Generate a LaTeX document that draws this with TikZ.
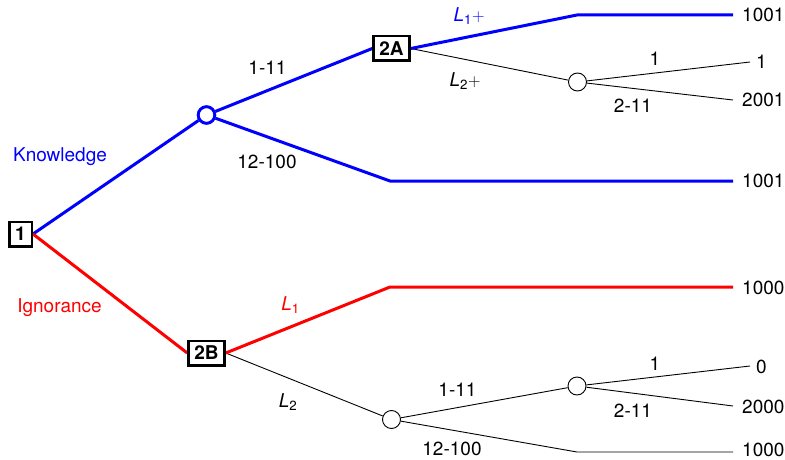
\documentclass[tikz,border=0pt]{standalone}
\usepackage{fontspec}
\setmainfont{TeX Gyre Heros}
\definecolor{kblue}{RGB}{0,0,255}
\definecolor{ired}{RGB}{255,0,0}
\begin{document}
\begin{tikzpicture}[x=1pt,y=-1pt,
  font=\fontsize{19}{22}\selectfont,
  decbox/.style={draw=black, line width=2.5pt, fill=white, font=\fontsize{19}{22}\selectfont\bfseries, inner sep=0pt, minimum width=36pt, minimum height=24.5pt},
  chancebig/.style={circle, draw=kblue, line width=2.8pt, fill=white, inner sep=0pt, minimum size=16.5pt},
  chance/.style={circle, draw=black, line width=0.9pt, fill=white, inner sep=0pt, minimum size=18pt},
  lbl/.style={inner sep=0pt, anchor=center},
  pay/.style={inner sep=0pt, anchor=west},
  thickblue/.style={draw=kblue, line width=3pt, line join=round},
  thickred/.style={draw=ired, line width=3pt, line join=round},
  thin/.style={draw=black, line width=0.9pt, line join=round}]
\useasboundingbox (0,0) rectangle (785,460);

% nodes
\node[decbox, minimum width=22.5pt] (n1) at (20.5,234) {1};
\node[chancebig] (k) at (206.5,115) {};
\node[decbox] (a) at (391.5,48.5) {2A};
\node[decbox] (b) at (206.5,353) {2B};
\node[chance] (ca) at (577.5,82) {};
\node[chance] (cb) at (391.5,419.5) {};
\node[chance] (cc) at (577,386) {};

\coordinate (a1b) at (577,15);
\coordinate (a1e) at (733,15);
\coordinate (k2b) at (390,181);
\coordinate (k2e) at (733,181);
\coordinate (caeA) at (750,62);
\coordinate (caeB) at (733,100);
\coordinate (b1b) at (390,287);
\coordinate (b1e) at (733,287);
\coordinate (cb2b) at (577,452);
\coordinate (cb2e) at (733,452);
\coordinate (cceA) at (750,366);
\coordinate (cceB) at (733,406);

% connectors
\draw[thin] (a.east) -- (ca);
\draw[thin] (ca) -- (caeA);
\draw[thin] (ca) -- (caeB);
\draw[thin] (b.east) -- (cb);
\draw[thin] (cb) -- (cc);
\draw[thin] (cb) -- (cb2b) -- (cb2e);
\draw[thin] (cc) -- (cceA);
\draw[thin] (cc) -- (cceB);

\draw[thickblue] (n1.east) -- (k);
\draw[thickblue] (k) -- (a.west);
\draw[thickblue] (k) -- (k2b) -- (k2e);
\draw[thickblue] (a.east) -- (a1b) -- (a1e);
\draw[thickred] (n1.east) -- (b.west);
\draw[thickred] (b.east) -- (b1b) -- (b1e);

% redraw nodes on top
\node[decbox, minimum width=22.5pt] at (n1) {1};
\node[chancebig] at (k) {};
\node[decbox] at (a) {2A};
\node[decbox] at (b) {2B};

% labels
\node[lbl, text=kblue] (lk) at (60,157) {Knowledge};
\node[lbl, text=ired] (li) at (59.5,308) {Ignorance};
\node[lbl] (l111) at (267.5,68) {1-11};
\node[lbl] (l12100) at (267,162) {12-100};
\node[lbl, text=kblue] (lL1p) at (469,16) {\textit{L}\textsubscript{1}$+$};
\node[lbl] (lL2p) at (465,81) {\textit{L}\textsubscript{2}$+$};
\node[lbl] (la1) at (655,59) {1};
\node[lbl] (la211) at (633,106) {2-11};
\node[lbl, text=ired] (lL1) at (290.5,305) {\textit{L}\textsubscript{1}};
\node[lbl] (lL2) at (288,402) {\textit{L}\textsubscript{2}};
\node[lbl] (lb111) at (457.5,390) {1-11};
\node[lbl] (lb12100) at (452,449) {12-100};
\node[lbl] (lc1) at (655,364) {1};
\node[lbl] (lc211) at (633,411) {2-11};

% payoffs
\node[pay] (p1) at (742,15) {1001};
\node[pay] (p2) at (756,62) {1};
\node[pay] (p3) at (742,100) {2001};
\node[pay] (p4) at (742,181) {1001};
\node[pay] (p5) at (742,288) {1000};
\node[pay] (p6) at (756,367) {0};
\node[pay] (p7) at (742,407) {2000};
\node[pay] (p8) at (742,450) {1000};
\end{tikzpicture}
\end{document}
